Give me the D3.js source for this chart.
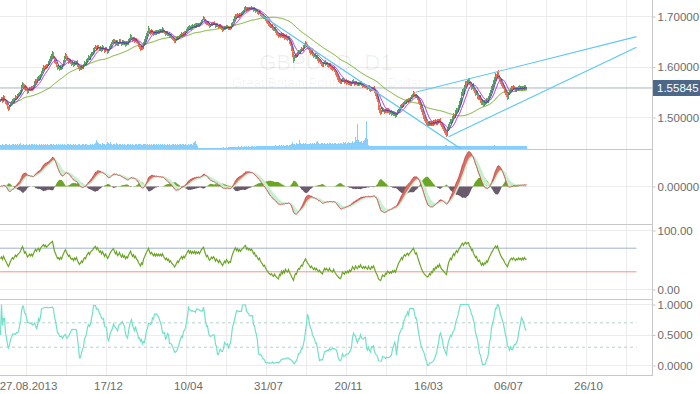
<!DOCTYPE html>
<html>
<head>
<meta charset="utf-8">
<script src="https://cdn.jsdelivr.net/npm/d3@7"></script>
<style>
  body { margin: 0; background: #fff; }
  svg { display: block; font-family: "Liberation Sans", Arial, sans-serif; }
</style>
</head>
<body>
<div id="chart"></div>
<script>
const symbol = 'GBPUSD, D1';
const symbolName = 'Great Britain Pound vs US Dollar';
const lastPrice = 1.55845;

// daily closes, one per bar
const closes = [
  1.534,1.538,1.533,1.540,1.536,1.531,1.527,1.521,1.517,1.522,
  1.527,1.531,1.535,1.532,1.537,1.541,1.538,1.543,1.545,1.548,
  1.552,1.561,1.567,1.563,1.557,1.560,1.556,1.551,1.554,1.558,
  1.555,1.559,1.556,1.562,1.568,1.574,1.571,1.577,1.580,1.576,
  1.584,1.590,1.595,1.600,1.597,1.603,1.600,1.604,1.608,1.614,
  1.618,1.622,1.627,1.620,1.612,1.608,1.603,1.598,1.600,1.596,
  1.601,1.598,1.605,1.611,1.618,1.623,1.619,1.615,1.611,1.614,
  1.609,1.606,1.608,1.604,1.609,1.606,1.610,1.604,1.600,1.596,
  1.598,1.602,1.599,1.605,1.608,1.606,1.612,1.616,1.620,1.617,
  1.623,1.626,1.628,1.633,1.637,1.640,1.636,1.641,1.638,1.635,
  1.638,1.634,1.639,1.636,1.632,1.637,1.634,1.630,1.633,1.638,
  1.643,1.647,1.650,1.653,1.649,1.646,1.651,1.645,1.647,1.652,
  1.648,1.645,1.650,1.646,1.649,1.644,1.648,1.646,1.652,1.656,
  1.661,1.657,1.653,1.657,1.652,1.655,1.650,1.648,1.643,1.640,
  1.636,1.641,1.638,1.647,1.652,1.658,1.664,1.669,1.676,1.671,
  1.667,1.671,1.668,1.665,1.670,1.666,1.671,1.668,1.672,1.669,
  1.673,1.670,1.675,1.671,1.668,1.665,1.668,1.664,1.666,1.661,
  1.663,1.659,1.657,1.655,1.651,1.653,1.656,1.659,1.657,1.661,
  1.663,1.666,1.663,1.667,1.665,1.669,1.672,1.676,1.679,1.676,
  1.680,1.677,1.681,1.679,1.683,1.680,1.684,1.682,1.685,1.683,
  1.687,1.691,1.694,1.697,1.693,1.689,1.686,1.688,1.684,1.681,
  1.683,1.686,1.684,1.687,1.685,1.681,1.684,1.682,1.679,1.682,
  1.679,1.677,1.674,1.676,1.679,1.677,1.681,1.679,1.676,1.678,
  1.677,1.683,1.688,1.693,1.698,1.702,1.699,1.703,1.700,1.704,
  1.702,1.706,1.708,1.711,1.715,1.717,1.713,1.716,1.714,1.717,
  1.715,1.718,1.716,1.713,1.715,1.711,1.712,1.709,1.707,1.709,
  1.705,1.703,1.701,1.698,1.699,1.695,1.691,1.689,1.685,1.683,
  1.680,1.681,1.677,1.674,1.676,1.671,1.667,1.664,1.661,1.665,
  1.662,1.666,1.660,1.663,1.658,1.662,1.657,1.655,1.658,1.650,
  1.645,1.636,1.626,1.614,1.620,1.624,1.622,1.628,1.631,1.629,
  1.633,1.636,1.634,1.640,1.643,1.647,1.643,1.639,1.636,1.632,
  1.628,1.630,1.625,1.622,1.624,1.619,1.621,1.616,1.612,1.614,
  1.609,1.606,1.603,1.607,1.610,1.606,1.608,1.604,1.602,1.605,
  1.600,1.598,1.596,1.599,1.593,1.589,1.584,1.579,1.575,1.571,
  1.569,1.572,1.576,1.573,1.570,1.573,1.569,1.571,1.567,1.570,
  1.566,1.568,1.572,1.569,1.566,1.570,1.567,1.565,1.568,1.566,
  1.569,1.565,1.562,1.564,1.561,1.563,1.560,1.558,1.561,1.557,
  1.555,1.558,1.556,1.558,1.553,1.547,1.541,1.535,1.521,1.515,
  1.510,1.513,1.517,1.514,1.511,1.515,1.512,1.516,1.513,1.509,
  1.511,1.507,1.510,1.506,1.508,1.503,1.507,1.511,1.515,1.518,
  1.521,1.525,1.522,1.528,1.531,1.529,1.533,1.535,1.532,1.536,
  1.538,1.542,1.545,1.548,1.544,1.541,1.543,1.538,1.533,1.528,
  1.522,1.515,1.509,1.503,1.498,1.493,1.489,1.486,1.487,1.490,
  1.486,1.490,1.487,1.492,1.489,1.493,1.490,1.494,1.491,1.495,
  1.489,1.484,1.481,1.478,1.474,1.470,1.467,1.476,1.484,1.489,
  1.494,1.491,1.499,1.505,1.502,1.510,1.516,1.513,1.522,1.528,
  1.534,1.546,1.553,1.549,1.561,1.568,1.565,1.571,1.574,1.568,
  1.566,1.560,1.564,1.556,1.552,1.547,1.550,1.542,1.538,1.541,
  1.534,1.528,1.532,1.526,1.531,1.529,1.535,1.532,1.539,1.545,
  1.550,1.557,1.562,1.570,1.576,1.583,1.580,1.588,1.581,1.576,
  1.570,1.566,1.562,1.559,1.553,1.548,1.544,1.540,1.547,1.552,
  1.556,1.559,1.556,1.560,1.557,1.554,1.558,1.556,1.560,1.557,
  1.559,1.556,1.560,1.557,1.561,1.558,1.55845
];

// wick lengths above / below the candle body, in pips
const upperWicks = [
  22,35,18,40,25,15,30,20,12,28, 33,17,26,38,21,30,14,27,35,19,
  24,41,30,16,28,35,20,13,32,25, 18,36,27,22,40,31,15,29,24,37,
  26,19,34,42,23,17,30,25,38,21, 28,35,45,20,16,31,24,19,33,27,
  22,38,15,29,36,41,18,25,32,20, 27,14,33,23,19,37,26,30,17,24,
  35,21,28,16,39,25,30,22,34,18, 26,31,20,37,24,29,15,33,27,22,
  30,19,36,24,17,28,33,21,26,38, 23,29,34,18,27,40,22,31,16,25,
  32,20,28,37,24,15,30,26,35,21, 38,23,17,29,33,20,27,24,16,31,
  22,35,28,19,26,34,30,25,42,18, 27,33,21,29,16,36,24,28,20,31,
  25,17,34,22,30,19,27,35,23,28, 20,32,26,15,29,24,37,21,30,18,
  33,25,19,28,36,22,27,31,24,40, 21,29,34,18,26,32,23,37,20,28,
  25,30,17,35,22,28,19,33,26,24, 31,16,27,23,34,20,29,25,18,30,
  22,27,33,19,25,31,17,28,24,21, 29,35,20,26,32,38,23,30,18,27,
  34,21,28,24,36,30,19,25,33,22, 27,31,18,24,29,20,35,26,22,30,
  19,28,24,33,21,27,30,17,25,32, 23,29,36,20,26,31,18,28,24,22,
  30,25,19,34,27,21,29,35,24,26, 28,40,33,45,38,27,31,24,36,22,
  29,34,21,27,38,42,25,30,19,33, 26,22,35,28,18,31,24,29,37,20,
  27,33,21,30,25,38,19,28,24,32, 22,29,34,18,26,31,40,25,33,28,
  24,36,30,21,27,19,32,26,35,23, 28,20,31,37,24,29,18,33,26,22,
  34,25,29,21,36,27,23,30,19,28, 25,32,20,27,35,38,30,42,50,44,
  36,28,40,25,31,22,34,27,30,38, 24,29,33,21,27,35,26,30,22,28,
  31,25,34,27,20,36,29,24,32,26, 28,33,22,39,30,25,31,23,27,34,
  29,36,27,31,24,38,33,22,35,28, 26,30,34,21,28,32,25,36,29,23,
  31,27,22,35,29,33,40,45,38,30, 34,28,36,31,25,42,38,30,35,40,
  44,50,38,46,36,48,33,41,52,39, 35,43,30,37,28,34,40,26,32,37,
  29,33,38,25,31,36,27,34,30,42, 36,45,39,48,41,50,37,46,55,32,
  30,37,28,34,26,31,29,35,40,27, 32,25,30,36,28,33,24,31,27,35,
  29,33,26,30,28,32,25
];
const lowerWicks = [
  30,20,38,25,33,41,28,45,50,22, 18,27,15,36,24,19,32,22,16,30,
  25,17,29,40,33,21,37,42,26,19, 34,23,31,18,20,27,36,15,25,39,
  21,28,17,24,36,19,31,26,22,33, 18,25,20,38,42,29,35,40,23,37,
  27,33,24,19,16,22,36,30,41,25, 38,32,20,35,27,24,18,39,33,42,
  26,37,30,22,19,31,17,24,20,35, 22,18,27,16,25,20,36,23,30,34,
  24,35,21,29,38,17,31,40,26,20, 19,25,17,22,33,36,20,38,27,18,
  29,37,21,33,26,40,24,31,19,23, 17,34,39,22,36,28,33,30,41,37,
  45,26,38,22,18,21,17,24,20,35, 33,22,30,36,21,31,25,29,19,34,
  23,32,18,30,35,38,26,33,24,40, 28,37,33,36,42,25,20,23,31,19,
  22,17,30,21,28,19,24,16,20,32, 18,31,22,27,17,29,21,25,19,33,
  24,17,20,15,32,36,30,22,35,38, 25,21,29,18,27,36,22,30,37,24,
  33,35,38,27,21,30,19,28,34,26, 31,17,20,16,18,21,33,19,30,22,
  28,18,22,17,15,19,36,21,29,17, 30,18,24,35,22,38,27,33,36,25,
  37,31,34,29,22,35,38,30,41,33, 36,24,39,35,27,40,42,33,37,25,
  38,26,34,23,36,28,33,39,25,37, 42,48,55,60,30,25,34,22,20,31,
  24,19,30,22,18,21,33,36,31,38, 35,26,39,33,27,36,24,38,35,28,
  37,33,36,22,20,35,26,33,30,24, 36,31,34,23,38,41,37,44,40,35,
  33,22,19,30,34,25,37,28,36,24, 35,29,20,31,36,23,30,34,25,32,
  22,36,33,25,35,28,36,31,24,37, 38,26,30,24,40,45,48,52,60,55,
  50,33,27,35,38,26,34,24,31,37, 29,35,27,36,30,38,25,21,19,26,
  24,20,33,18,22,31,20,25,34,22, 27,21,19,24,37,33,28,38,36,40,
  44,47,43,50,41,45,38,40,26,29, 35,27,38,30,36,28,40,42,31,25,
  33,38,40,42,45,48,55,30,24,22, 26,37,24,28,36,25,30,39,27,31,
  29,24,33,41,26,35,39,28,33,44, 40,46,32,45,38,42,31,47,40,33,
  44,41,30,46,34,37,28,39,26,24, 27,22,30,25,31,29,38,27,44,40,
  42,36,39,33,45,40,38,47,30,26, 28,33,37,25,34,38,27,35,29,36,
  31,37,27,35,30,36,28
];

// tick volume per bar, thousands
const volumes = [
  45,38,52,41,36,48,55,42,39,50, 44,37,49,53,40,46,38,51,43,47,
  56,42,39,48,45,37,52,44,41,49, 38,46,53,42,47,40,55,43,38,50,
  45,52,41,47,39,54,44,48,42,37, 51,46,40,55,43,38,49,45,52,41,
  47,39,53,44,48,42,37,50,46,43, 52,40,45,49,38,54,44,41,47,50,
  43,39,52,46,41,48,55,42,45,38, 49,44,51,40,47,62,88,75,58,46,
  52,45,60,48,55,42,50,67,58,46, 72,50,45,53,48,41,56,47,44,51,
  46,40,52,45,49,43,38,51,47,44, 53,42,48,45,40,55,47,43,50,46,
  52,44,41,49,46,53,40,47,45,50, 43,48,42,51,46,39,47,44,52,41,
  48,45,50,43,47,42,38,49,45,51, 44,40,48,46,42,53,45,49,41,47,
  50,43,46,52,44,48,41,45,49,43, 47,52,45,58,66,78,52,30,14,10,
  12,9,11,13,10,8,12,11,9,13, 10,12,14,11,9,12,15,13,10,12,
  14,11,13,16,12,15,18,14,17,20, 18,22,19,24,21,25,20,23,26,22,
  24,27,23,25,28,24,26,22,27,25, 23,28,26,24,29,25,27,30,26,28,
  31,27,29,33,28,30,32,29,34,31, 30,35,32,29,33,36,31,34,30,37,
  33,36,32,38,35,34,39,36,33,40, 42,55,70,48,52,45,58,50,47,95,
  62,54,48,57,51,60,49,55,53,47, 58,52,61,50,56,48,75,82,64,55,
  52,60,57,49,63,55,51,58,54,62, 56,50,59,53,61,57,48,55,60,52,
  58,62,54,66,59,72,55,63,68,60, 65,58,78,62,70,120,95,255,88,74,
  68,82,64,76,92,110,280,105,45,30, 28,32,26,30,34,27,31,29,33,28,
  30,26,32,35,28,31,27,34,30,26, 29,33,27,31,28,32,26,30,34,28,
  31,27,33,29,26,32,30,28,35,29, 27,31,28,33,30,26,32,29,34,27,
  30,35,28,32,27,31,36,29,33,30, 28,32,26,31,34,29,27,33,30,28,
  31,27,35,29,32,38,41,33,30,28, 32,29,34,27,31,28,33,30,26,32,
  35,29,31,27,33,30,28,34,29,31, 27,32,30,35,28,31,29,33,26,30,
  32,28,34,30,27,31,29,33,30,28, 31,35,29,32,38,34,30,28,33,29,
  27,31,30,34,28,32,29,26,33,30, 28,31,27,32,30,29,33,28,31,27,
  30,28,32,29,31,27,30
];

const dateLabels = ['27.08.2013', '17/12', '10/04', '31/07', '20/11', '16/03', '06/07', '26/10'];
const dateLabelBars = [26, 106, 186, 266, 346, 426, 506, 586];

const priceTicks = [1.5, 1.6, 1.7];
const macdTicks = [0];
const rsiTicks = [0, 100];
const rsiLevels = [70, 30];
const oscTicks = [0, 0.5, 1];
const oscLevels = [0.7, 0.3];

// trend lines drawn by hand on the chart: [bar, price] pairs
const trendLines = [
  [[260, 1.704], [461, 1.437]],
  [[415, 1.550], [636, 1.660]],
  [[448, 1.462], [636, 1.639]],
];
const levelEndBar = 636;

const pip = 0.0001;
const plotRight = 652;
const x = d3.scaleLinear().domain([0, 1]).range([0.5, 1.5]);
const yPrice = d3.scaleLinear().domain([1.5, 1.7]).range([117.5, 16.5]);
const yVol = d3.scaleLinear().domain([0, 300]).range([149, 119]);
const yMacd = d3.scaleLinear().domain([-0.02, 0.02]).range([221.5, 151.5]);
const yRsi = d3.scaleLinear().domain([0, 100]).range([289.5, 230.5]);
const yOsc = d3.scaleLinear().domain([0, 1]).range([365.5, 304.5]);

// indicators
function sma(values, n) {
  return values.map((v, i) => d3.mean(values.slice(Math.max(0, i - n + 1), i + 1)));
}
function ema(values, n) {
  const k = 2 / (n + 1);
  let prev = values[0];
  return values.map((v, i) => (prev = i ? v * k + prev * (1 - k) : v));
}
function rsi(values, n) {
  const diffs = values.slice(1, n + 1).map((v, i) => v - values[i]);
  let g = d3.mean(diffs, d => Math.max(d, 0));
  let l = d3.mean(diffs, d => Math.max(-d, 0));
  return values.map((v, i) => {
    if (i > 0) {
      const d = v - values[i - 1];
      g = (g * (n - 1) + Math.max(d, 0)) / n;
      l = (l * (n - 1) + Math.max(-d, 0)) / n;
    }
    return l === 0 ? 100 : 100 - 100 / (1 + g / l);
  });
}
function demarker(highs, lows, n) {
  const up = highs.map((h, i) => i ? Math.max(h - highs[i - 1], 0) : 0);
  const dn = lows.map((l, i) => i ? Math.max(lows[i - 1] - l, 0) : 0);
  const upAvg = sma(up, n), dnAvg = sma(dn, n);
  return upAvg.map((u, i) => u + dnAvg[i] > 0 ? u / (u + dnAvg[i]) : 0.5);
}

const opens = closes.map((c, i) => i ? closes[i - 1] : c);
const highs = closes.map((c, i) => Math.max(c, opens[i]) + upperWicks[i] * pip);
const lows = closes.map((c, i) => Math.min(c, opens[i]) - lowerWicks[i] * pip);
const maFast = sma(closes, 5);
const maMid = sma(closes, 10);
const maSlow = sma(closes, 50);
const ema12 = ema(closes, 12), ema26 = ema(closes, 26);
const macd = ema12.map((v, i) => v - ema26[i]);
const signal = ema(macd, 9);
const hist = macd.map((v, i) => signal[i] - v);
const rsiValues = rsi(closes, 14);
const oscValues = demarker(highs, lows, 14);

const svg = d3.select('#chart').append('svg')
  .attr('width', 700)
  .attr('height', 394);

svg.append('rect').attr('width', 700).attr('height', 394).attr('fill', '#fff');

const defs = svg.append('defs');
[['clipMain', 0, 149], ['clipMacd', 149, 224], ['clipRsi', 224, 299], ['clipOsc', 299, 375]].forEach(([id, top, bottom]) => {
  defs.append('clipPath').attr('id', id)
    .append('rect').attr('x', 0).attr('y', top).attr('width', plotRight).attr('height', bottom - top);
});

// grid
const grid = svg.append('g').attr('shape-rendering', 'crispEdges');
grid.selectAll('.vgrid').data(d3.range(26, plotRight, 40)).join('line')
  .attr('x1', d => x(d)).attr('x2', d => x(d))
  .attr('y1', 0).attr('y2', 375)
  .attr('stroke', '#ebebeb');
const hGrid = [
  ...priceTicks.map(t => yPrice(t)),
  ...macdTicks.map(t => yMacd(t)),
  ...rsiTicks.map(t => yRsi(t)),
  ...oscTicks.map(t => yOsc(t)),
];
grid.selectAll('.hgrid').data(hGrid).join('line')
  .attr('x1', 0).attr('x2', plotRight)
  .attr('y1', d => d).attr('y2', d => d)
  .attr('stroke', '#ebebeb');

// watermark
svg.append('text')
  .attr('x', 326).attr('y', 70)
  .attr('text-anchor', 'middle')
  .style('font-size', '22px')
  .style('fill', '#000').style('fill-opacity', 0.06)
  .text(symbol);
svg.append('text')
  .attr('x', 327).attr('y', 87)
  .attr('text-anchor', 'middle')
  .style('font-size', '13px')
  .style('fill', '#000').style('fill-opacity', 0.06)
  .text(symbolName);

// main panel
const main = svg.append('g').attr('clip-path', 'url(#clipMain)');

main.append('g').attr('shape-rendering', 'crispEdges')
  .selectAll('rect').data(volumes).join('rect')
  .attr('x', (d, i) => x(i) - 0.5)
  .attr('width', 1)
  .attr('y', d => yVol(d))
  .attr('height', d => yVol(0) - yVol(d))
  .attr('fill', '#87cefa');

main.append('line')
  .attr('x1', 0).attr('x2', plotRight)
  .attr('y1', yPrice(lastPrice)).attr('y2', yPrice(lastPrice))
  .attr('stroke', '#a9b4c3');

main.append('g').attr('shape-rendering', 'crispEdges')
  .selectAll('rect').data(closes).join('rect')
  .attr('x', (d, i) => x(i) - 0.5)
  .attr('width', 1)
  .attr('y', (d, i) => yPrice(highs[i]))
  .attr('height', (d, i) => Math.max(1, yPrice(lows[i]) - yPrice(highs[i])))
  .attr('fill', (d, i) => d >= opens[i] ? '#55a05c' : '#f26c50');

const priceLine = d3.line().x((d, i) => x(i)).y(d => yPrice(d));
[[maSlow, '#6fae24'], [maMid, '#b43ac8'], [maFast, '#2f3cab']].forEach(([values, color]) => {
  main.append('path')
    .datum(values)
    .attr('d', priceLine)
    .attr('fill', 'none')
    .attr('stroke', color)
    .attr('stroke-width', 1);
});

main.selectAll('.trend').data(trendLines).join('line')
  .attr('x1', d => x(d[0][0])).attr('y1', d => yPrice(d[0][1]))
  .attr('x2', d => x(d[1][0])).attr('y2', d => yPrice(d[1][1]))
  .attr('stroke', '#5cc8f2')
  .attr('stroke-width', 1.2);

// MACD panel
const macdG = svg.append('g').attr('clip-path', 'url(#clipMacd)');
const histArea = d3.area().x((d, i) => x(i)).y0(yMacd(0)).y1(d => yMacd(d));
macdG.append('path').datum(hist.map(v => Math.max(v, 0))).attr('d', histArea).attr('fill', '#6aa624');
macdG.append('path').datum(hist.map(v => Math.min(v, 0))).attr('d', histArea).attr('fill', '#6b5a6b');

macdG.append('g').attr('shape-rendering', 'crispEdges')
  .selectAll('rect').data(macd).join('rect')
  .attr('x', (d, i) => x(i) - 0.5)
  .attr('width', 1)
  .attr('y', (d, i) => Math.min(yMacd(d), yMacd(signal[i])))
  .attr('height', (d, i) => Math.abs(yMacd(d) - yMacd(signal[i])))
  .attr('fill', (d, i) => d > signal[i] ? '#d97068' : '#c8f0d0');
macdG.append('path')
  .datum(signal)
  .attr('d', d3.line().x((d, i) => x(i)).y(d => yMacd(d)))
  .attr('fill', 'none').attr('stroke', '#c8f0d0').attr('stroke-width', 1.5);
macdG.append('path')
  .datum(macd)
  .attr('d', d3.line().x((d, i) => x(i)).y(d => yMacd(d)))
  .attr('fill', 'none').attr('stroke', '#c9524e').attr('stroke-width', 1);

// RSI panel
const rsiG = svg.append('g').attr('clip-path', 'url(#clipRsi)');
rsiG.selectAll('.level').data(rsiLevels).join('line')
  .attr('x1', 0).attr('x2', x(levelEndBar))
  .attr('y1', d => yRsi(d)).attr('y2', d => yRsi(d))
  .attr('stroke', d => d > 50 ? '#9fb3cb' : '#f0938b');
rsiG.append('path')
  .datum(rsiValues)
  .attr('d', d3.line().x((d, i) => x(i)).y(d => yRsi(d)))
  .attr('fill', 'none').attr('stroke', '#6aa624').attr('stroke-width', 1.2);

// DeMarker panel
const oscG = svg.append('g').attr('clip-path', 'url(#clipOsc)');
oscG.selectAll('.level').data(oscLevels).join('line')
  .attr('x1', 0).attr('x2', x(levelEndBar))
  .attr('y1', d => yOsc(d)).attr('y2', d => yOsc(d))
  .attr('stroke', '#b5d3cc')
  .attr('stroke-dasharray', '3,3');
oscG.append('path')
  .datum(oscValues)
  .attr('d', d3.line().x((d, i) => x(i)).y(d => yOsc(d)))
  .attr('fill', 'none').attr('stroke', '#72e0c8').attr('stroke-width', 1.2);

// panel borders
const borders = svg.append('g').attr('shape-rendering', 'crispEdges');
borders.selectAll('line').data([149, 224, 299, 375]).join('line')
  .attr('x1', 0).attr('x2', plotRight + 1)
  .attr('y1', d => d + 0.5).attr('y2', d => d + 0.5)
  .attr('stroke', '#c8c8c8');
borders.append('line')
  .attr('x1', plotRight + 0.5).attr('x2', plotRight + 0.5)
  .attr('y1', 0).attr('y2', 376)
  .attr('stroke', '#c8c8c8');

// axes
function rightAxis(scale, ticks, fmt) {
  const g = svg.append('g')
    .attr('transform', `translate(${plotRight + 0.5},0)`)
    .call(d3.axisRight(scale).tickValues(ticks).tickFormat(fmt).tickSize(3).tickPadding(2));
  g.select('.domain').remove();
  g.selectAll('line').attr('stroke', '#c8c8c8');
  g.selectAll('text').style('font-size', '11.5px').style('fill', '#6b6b6b')
    .style('font-family', '"Liberation Sans", Arial, sans-serif');
}
rightAxis(yPrice, priceTicks, d3.format('.5f'));
rightAxis(yMacd, macdTicks, d3.format('.5f'));
rightAxis(yRsi, rsiTicks, d3.format('.2f'));
rightAxis(yOsc, oscTicks, d3.format('.4f'));

const bottom = svg.append('g')
  .attr('transform', 'translate(1.5,375.5)')
  .call(d3.axisBottom(x).tickValues(dateLabelBars).tickFormat((d, i) => dateLabels[i]).tickSize(0).tickPadding(6));
bottom.select('.domain').remove();
bottom.selectAll('text').style('font-size', '11.5px').style('fill', '#6b6b6b')
  .style('font-family', '"Liberation Sans", Arial, sans-serif');

// last price tag
const tag = svg.append('g').attr('transform', `translate(${plotRight + 1},${yPrice(lastPrice)})`);
tag.append('rect')
  .attr('x', 0).attr('y', -8)
  .attr('width', 48).attr('height', 16)
  .attr('fill', '#4b6889');
tag.append('text')
  .attr('x', 4).attr('dy', '0.35em')
  .style('font-size', '11.5px')
  .style('fill', '#fff')
  .text(d3.format('.5f')(lastPrice));
</script>
</body>
</html>
